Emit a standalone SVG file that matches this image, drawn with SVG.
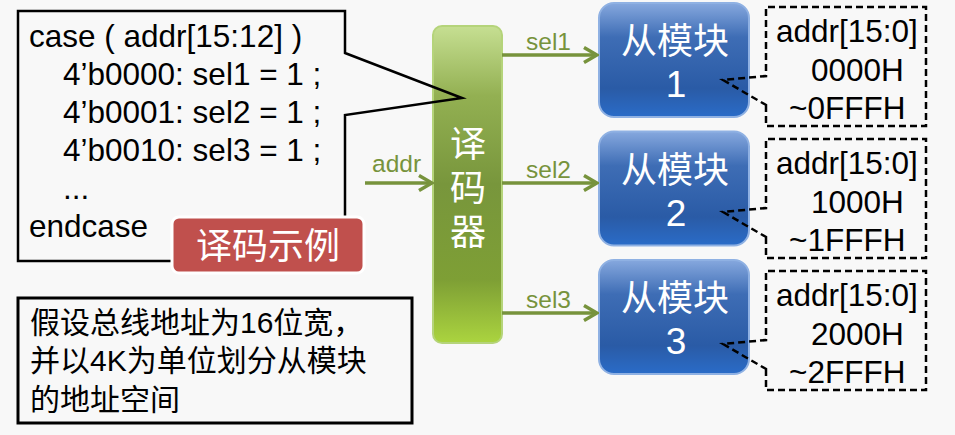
<svg xmlns="http://www.w3.org/2000/svg" width="955" height="435" viewBox="0 0 955 435">
<defs>
<style>
.code{font-family:"Liberation Sans","Noto Sans CJK SC",sans-serif;font-size:31.5px;fill:#000}
.note{font-family:"Liberation Sans","Noto Sans CJK SC",sans-serif;font-size:30px;fill:#000}
.wt{font-family:"Liberation Sans","Noto Sans CJK SC",sans-serif;fill:#fff;text-anchor:middle}
.gl{font-family:"Liberation Sans",sans-serif;font-size:24.5px;fill:#77933c}
.ln{stroke:#77933c;stroke-width:3.5;fill:none}
.dash{fill:none;stroke:#000;stroke-width:2.5;stroke-dasharray:7 4}
.mod{stroke:#8fb1e3;stroke-width:2}
</style>
<linearGradient id="gG" x1="0" y1="0" x2="0" y2="1">
<stop offset="0" stop-color="#c6df92"/>
<stop offset="0.22" stop-color="#93b052"/>
<stop offset="0.5" stop-color="#78963c"/>
<stop offset="0.8" stop-color="#7e9f35"/>
<stop offset="1" stop-color="#abd43f"/>
</linearGradient>
<linearGradient id="gB" x1="0" y1="0" x2="0" y2="1">
<stop offset="0" stop-color="#86a8de"/>
<stop offset="0.3" stop-color="#3e6db5"/>
<stop offset="0.75" stop-color="#2a5ba6"/>
<stop offset="1" stop-color="#2a6cc8"/>
</linearGradient>
<marker id="ah" viewBox="0 0 16 18" refX="14" refY="9" markerWidth="16" markerHeight="18" markerUnits="userSpaceOnUse" orient="auto">
<path d="M1,1.5 L14,9 L1,16.5" fill="none" stroke="#77933c" stroke-width="3.5"/>
</marker>
</defs>
<rect x="0" y="0" width="955" height="435" fill="#f8f8f8"/>

<g id="decoder">
<rect x="433" y="26" width="69" height="317" rx="9" fill="url(#gG)" stroke="#b5d47a" stroke-width="2"/>
<text class="wt" x="468" y="157" font-size="36">译</text>
<text class="wt" x="468" y="201" font-size="36">码</text>
<text class="wt" x="468" y="245" font-size="36">器</text>
</g>

<g id="callout">
<path d="M345,53 L462,98 L345,115 L345,261 L18,261 L18,11 L345,11 Z" fill="none" stroke="#000" stroke-width="2.5"/>
<text class="code" x="29" y="47">case ( addr[15:12] )</text>
<text class="code" x="63" y="85">4’b0000: sel1 = 1 ;</text>
<text class="code" x="63" y="123">4’b0001: sel2 = 1 ;</text>
<text class="code" x="63" y="161">4’b0010: sel3 = 1 ;</text>
<text class="code" x="63" y="199">...</text>
<text class="code" x="29" y="237">endcase</text>
</g>

<g id="label-example">
<rect x="172" y="217" width="192" height="56" rx="7" fill="#c0504d" stroke="#fff" stroke-width="3"/>
<text class="wt" x="268" y="259" font-size="36">译码示例</text>
</g>

<g id="note">
<rect x="18" y="298" width="394" height="125" fill="none" stroke="#000" stroke-width="3"/>
<text class="note" x="30" y="333">假设总线地址为16位宽，</text>
<text class="note" x="30" y="371">并以4K为单位划分从模块</text>
<text class="note" x="30" y="410">的地址空间</text>
</g>

<g id="module1">
<rect x="599" y="3" width="150" height="114" rx="15" fill="url(#gB)" class="mod"/>
<text class="wt" x="675" y="54" font-size="36">从模块</text>
<text class="wt" x="676" y="97" font-size="37">1</text>
</g>
<g id="module2">
<rect x="599" y="131.5" width="150" height="114" rx="15" fill="url(#gB)" class="mod"/>
<text class="wt" x="675" y="182.5" font-size="36">从模块</text>
<text class="wt" x="676" y="225.5" font-size="37">2</text>
</g>
<g id="module3">
<rect x="599" y="260" width="150" height="114" rx="15" fill="url(#gB)" class="mod"/>
<text class="wt" x="675" y="311" font-size="36">从模块</text>
<text class="wt" x="676" y="354" font-size="37">3</text>
</g>

<g id="range1">
<path class="dash" d="M766,105 L766,126 L926,126 L926,7 L766,7 L766,76 L723,80 Z"/>
<text class="code" x="776" y="42">addr[15:0]</text>
<text class="code" x="811" y="81">0000H</text>
<text class="code" x="789" y="119">~0FFFH</text>
</g>
<g id="range2">
<path class="dash" d="M766,237 L766,258 L926,258 L926,139 L766,139 L766,208 L723,212 Z"/>
<text class="code" x="776" y="174">addr[15:0]</text>
<text class="code" x="811" y="213">1000H</text>
<text class="code" x="789" y="251">~1FFFH</text>
</g>
<g id="range3">
<path class="dash" d="M766,369 L766,390 L926,390 L926,271 L766,271 L766,340 L723,344 Z"/>
<text class="code" x="776" y="306">addr[15:0]</text>
<text class="code" x="811" y="345">2000H</text>
<text class="code" x="789" y="383">~2FFFH</text>
</g>

<g id="connectors">
<line class="ln" x1="365" y1="183" x2="432" y2="183" marker-end="url(#ah)"/>
<text class="gl" x="372" y="172">addr</text>
<line class="ln" x1="502" y1="55" x2="597" y2="55" marker-end="url(#ah)"/>
<text class="gl" x="526" y="50">sel1</text>
<line class="ln" x1="502" y1="183" x2="597" y2="183" marker-end="url(#ah)"/>
<text class="gl" x="526" y="178">sel2</text>
<line class="ln" x1="502" y1="313" x2="597" y2="313" marker-end="url(#ah)"/>
<text class="gl" x="526" y="308">sel3</text>
</g>
</svg>
